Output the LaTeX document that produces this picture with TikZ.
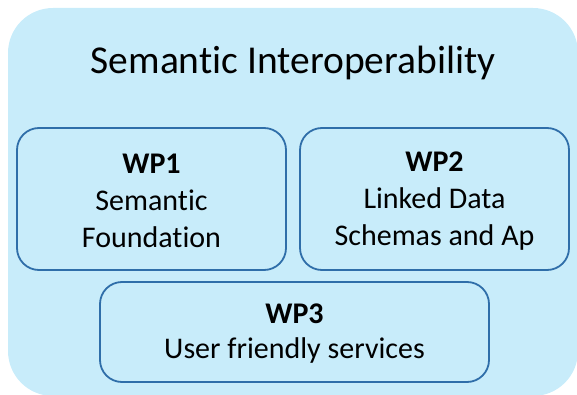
\documentclass[tikz,border=0pt]{standalone}
\usepackage{fontspec}
\setmainfont[Ligatures=NoCommon]{Carlito}
\definecolor{panelblue}{HTML}{C8ECFA}
\definecolor{wpline}{HTML}{2F6EA9}

\def\boxradius{22pt}
\def\panelradius{45pt}

\begin{document}
\begin{tikzpicture}[x=1pt,y=1pt,
    wpbox/.style={draw=wpline, line width=1.8pt, fill=panelblue,
      rounded corners=\boxradius, inner sep=0pt},
    wptext/.style={align=center, inner sep=0pt,
      font=\fontsize{30}{37}\selectfont}]
  \useasboundingbox (0,0) rectangle (577,-395);
  % light blue panel behind everything
  \node[fill=panelblue, rounded corners=\panelradius, inner sep=0pt,
    minimum width=570pt, minimum height=388pt] (panel) at (293,-202) {};
  \node[font=\fontsize{39.5}{47}\selectfont, anchor=base]
    (title) at (293,-74) {Semantic Interoperability};
  % work packages: frame first, then the text a little lower
  \node[wpbox, minimum width=269pt, minimum height=142pt] (wp1) at (151.5,-199) {};
  \node[wpbox, minimum width=269pt, minimum height=142pt] (wp2) at (434.5,-199) {};
  \node[wpbox, minimum width=389pt, minimum height=100pt] (wp3) at (294.5,-332) {};
  \node[wptext] (wp1text) at ([yshift=-2pt]wp1.center)
    {\textbf{WP1}\\Semantic\\Foundation};
  \node[wptext] (wp2text) at ([yshift=-2pt]wp2.center)
    {\textbf{WP2}\\Linked Data\\Schemas and Ap};
  \node[wptext, font=\fontsize{30}{35}\selectfont] (wp3text)
    at ([yshift=-1.5pt]wp3.center) {\textbf{WP3}\\User friendly services};
\end{tikzpicture}
\end{document}
